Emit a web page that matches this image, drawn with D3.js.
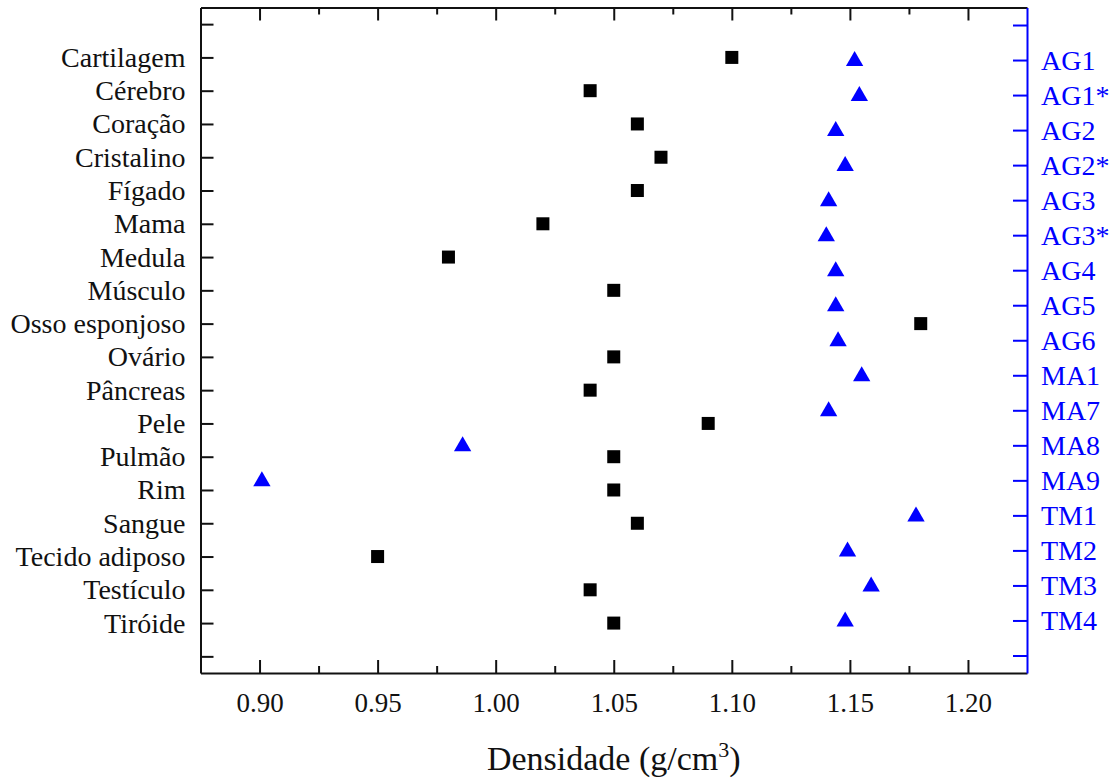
<!DOCTYPE html>
<html>
<head>
<meta charset="utf-8">
<script src="https://cdn.jsdelivr.net/npm/d3@7"></script>
<style>
  body { margin: 0; background: #fff; }
  svg { display: block; }
  svg text { font-family: 'Liberation Serif', 'Tinos', 'Times New Roman', 'DejaVu Serif', serif; }
</style>
</head>
<body>
<svg id="chart" width="1113" height="778"></svg>
<script>
// tissues (left axis, black squares)
const tissues = ['Cartilagem', 'Cérebro', 'Coração', 'Cristalino', 'Fígado', 'Mama', 'Medula',
  'Músculo', 'Osso esponjoso', 'Ovário', 'Pâncreas', 'Pele', 'Pulmão', 'Rim', 'Sangue',
  'Tecido adiposo', 'Testículo', 'Tiróide']
const tissueDensity = [1.10, 1.04, 1.06, 1.07, 1.06, 1.02, 0.98, 1.05, 1.18, 1.05, 1.04, 1.09,
  1.05, 1.05, 1.06, 0.95, 1.04, 1.05]

// samples (right axis, blue triangles)
const samples = ['AG1', 'AG1*', 'AG2', 'AG2*', 'AG3', 'AG3*', 'AG4', 'AG5', 'AG6', 'MA1', 'MA7',
  'MA8', 'MA9', 'TM1', 'TM2', 'TM3', 'TM4']
const sampleDensity = [1.152, 1.154, 1.144, 1.148, 1.141, 1.140, 1.144, 1.144, 1.145, 1.155, 1.141,
  0.986, 0.901, 1.178, 1.149, 1.159, 1.148]

const xMajor = [0.90, 0.95, 1.00, 1.05, 1.10, 1.15, 1.20]
const xMinor = [0.925, 0.975, 1.025, 1.075, 1.125, 1.175]

const BLUE = '#0000ff'
const FONT = "'Liberation Serif', 'Tinos', 'Times New Roman', 'DejaVu Serif', serif"

const W = 1113, H = 778
const m = { top: 7.5, right: 86, bottom: 105, left: 200.5 }
const iw = W - m.left - m.right
const ih = H - m.top - m.bottom

const svg = d3.select('#chart')
const g = svg.append('g').attr('transform', `translate(${m.left},${m.top})`)

const x = d3.scaleLinear().domain([0.875, 1.225]).range([0, iw])
// one empty slot above and below each list of categories
const yL = d3.scaleLinear().domain([-0.5, tissues.length + 1.5]).range([0, ih])
const yR = d3.scaleLinear().domain([-0.5, samples.length + 1.5]).range([0, ih])

function styleAxis(sel, color, size) {
  sel.attr('font-family', null)
  sel.selectAll('path, line').attr('stroke', color).attr('stroke-width', 2)
  sel.selectAll('text').attr('fill', color).style('font-family', FONT).style('font-size', size + 'px')
}

// bottom axis, ticks pointing in
g.append('g')
  .attr('transform', `translate(0,${ih})`)
  .call(d3.axisBottom(x).tickValues(xMajor).tickFormat(d3.format('.2f'))
    .tickSizeInner(-13).tickSizeOuter(0).tickPadding(20))
  .call(s => styleAxis(s, '#111', 27))
g.append('g')
  .attr('transform', `translate(0,${ih})`)
  .call(d3.axisBottom(x).tickValues(xMinor).tickFormat('').tickSizeInner(-7).tickSizeOuter(0))
  .call(s => { styleAxis(s, '#111', 27); s.select('path').remove() })

// top mirror axis
g.append('g')
  .call(d3.axisTop(x).tickValues(xMajor).tickFormat('').tickSizeInner(-13).tickSizeOuter(0))
  .call(s => styleAxis(s, '#111', 27))
g.append('g')
  .call(d3.axisTop(x).tickValues(xMinor).tickFormat('').tickSizeInner(-7).tickSizeOuter(0))
  .call(s => { styleAxis(s, '#111', 27); s.select('path').remove() })

// left axis: tissues
g.append('g')
  .call(d3.axisLeft(yL).tickValues(d3.range(tissues.length + 2))
    .tickFormat(i => tissues[i - 1] || '')
    .tickSizeInner(-13).tickSizeOuter(0).tickPadding(15))
  .call(s => styleAxis(s, '#111', 28))

// right axis: samples
g.append('g')
  .attr('transform', `translate(${iw},0)`)
  .call(d3.axisRight(yR).tickValues(d3.range(samples.length + 2))
    .tickFormat(i => samples[i - 1] || '')
    .tickSizeInner(-14).tickSizeOuter(0).tickPadding(14))
  .call(s => styleAxis(s, BLUE, 28))

// squares
const sq = 13
g.append('g').selectAll('rect')
  .data(tissues.map((t, i) => ({ t, v: tissueDensity[i], i: i + 1 })))
  .join('rect')
  .attr('x', d => x(d.v) - sq / 2)
  .attr('y', d => yL(d.i) - sq / 2)
  .attr('width', sq)
  .attr('height', sq)
  .attr('fill', '#000')

// triangles
const tri = d3.symbol().type(d3.symbolTriangle).size(130)
g.append('g').selectAll('path')
  .data(samples.map((s, i) => ({ s, v: sampleDensity[i], i: i + 1 })))
  .join('path')
  .attr('d', tri)
  .attr('transform', d => `translate(${x(d.v)},${yR(d.i) + 1})`)
  .attr('fill', BLUE)

// x title
const title = svg.append('text')
  .attr('x', m.left + x(1.05))
  .attr('y', 770)
  .attr('text-anchor', 'middle')
  .style('font-family', FONT)
  .style('font-size', '34px')
  .attr('fill', '#111')
title.append('tspan').text('Densidade (g/cm')
title.append('tspan').attr('dy', -13).style('font-size', '22px').text('3')
title.append('tspan').attr('dy', 13).text(')')
</script>
</body>
</html>
